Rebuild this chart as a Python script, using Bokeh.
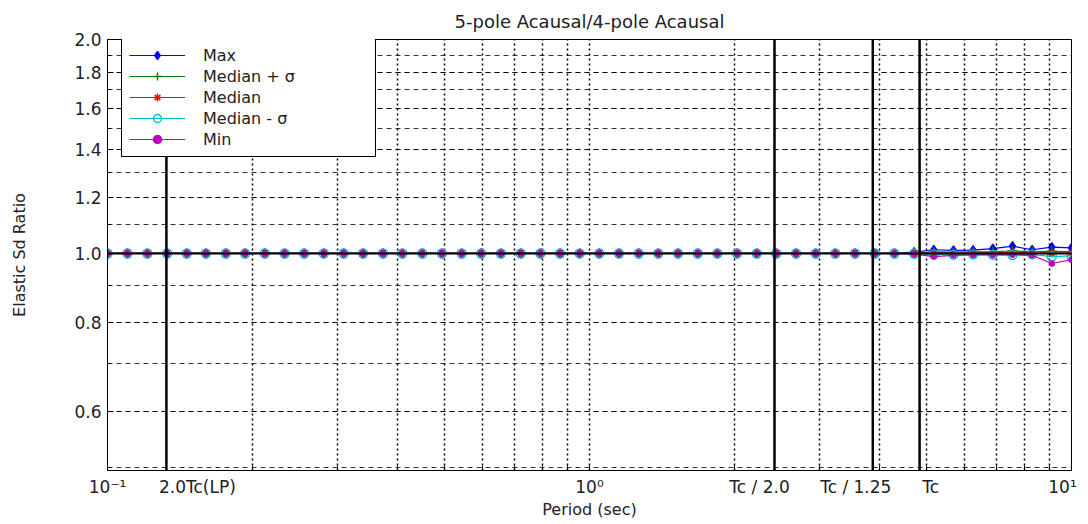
from bokeh.plotting import figure
from bokeh.models import (Range1d, FixedTicker, Span, Legend, LegendItem,
                          PrintfTickFormatter)
from bokeh.embed import file_html
from bokeh.resources import INLINE

# ---------------- data ----------------
periods = [0.100, 0.110, 0.121, 0.133, 0.146, 0.160, 0.176, 0.193, 0.212, 0.233,
           0.256, 0.281, 0.309, 0.339, 0.373, 0.409, 0.450, 0.494, 0.543, 0.596,
           0.655, 0.720, 0.791, 0.869, 0.954, 1.048, 1.151, 1.265, 1.389, 1.526,
           1.677, 1.842, 2.024, 2.223, 2.442, 2.683, 2.947, 3.237, 3.556, 3.907,
           4.292, 4.715, 5.179, 5.690, 6.251, 6.866, 7.543, 8.286, 9.103, 10.00]

max_vals = [1.0] * 41 + [1.004, 1.012, 1.010, 1.011, 1.016, 1.024, 1.012, 1.021, 1.018]
med_plus_vals = [1.0] * 41 + [1.001, 1.005, 1.004, 1.005, 1.006, 1.008, 1.006, 1.007, 1.006]
med_vals = [1.0] * 41 + [1.000, 1.002, 1.001, 1.002, 1.002, 1.003, 1.002, 1.001, 1.002]
med_minus_vals = [1.0] * 41 + [0.999, 0.997, 0.996, 0.997, 0.996, 0.995, 0.997, 0.990, 0.992]
min_vals = [1.0] * 41 + [0.998, 0.990, 0.994, 0.995, 0.995, 0.996, 0.994, 0.968, 0.980]

series_names = ["Max", "Median + σ", "Median", "Median - σ", "Min"]

ref_periods = [0.1325, 2.42, 3.87, 4.84]      # 2.0Tc(LP), Tc/2.0, Tc/1.25, Tc
ref_labels = ["2.0Tc(LP)", "Tc / 2.0", "Tc / 1.25", "Tc"]
unity = 1.0

x_ticks = [0.1, 1, 10]
x_tick_labels = ["10⁻¹", "10⁰", "10¹"]
x_minor = [0.2, 0.3, 0.4, 0.5, 0.6, 0.7, 0.8, 0.9, 2, 3, 4, 5, 6, 7, 8, 9]
y_ticks = [0.6, 0.8, 1.0, 1.2, 1.4, 1.6, 1.8, 2.0]
y_minor = [0.5, 0.6, 0.7, 0.8, 0.9, 1.0, 1.1, 1.2, 1.3, 1.4, 1.5, 1.6, 1.7, 1.8, 1.9, 2.0]

FONT = "DejaVu Sans"
TXT = "#222222"

p = figure(width=1084, height=522, x_axis_type="log", y_axis_type="log",
           x_range=Range1d(0.1, 10), y_range=Range1d(0.495, 2.0),
           output_backend="svg", toolbar_location=None,
           min_border_left=107, min_border_right=13, min_border_top=37, min_border_bottom=52,
           title="5-pole Acausal/4-pole Acausal")

p.title.align = "center"
p.title.text_font = FONT
p.title.text_font_size = "18px"
p.title.text_font_style = "normal"
p.title.text_color = TXT
p.title.standoff = 16

p.outline_line_color = "black"
p.outline_line_alpha = 1.0
p.outline_line_width = 1
p.background_fill_color = "white"

# ---- tickers / grids ----
xt = FixedTicker(ticks=x_ticks, minor_ticks=x_minor)
yt = FixedTicker(ticks=y_ticks, minor_ticks=y_minor)
p.xgrid.ticker = xt
p.ygrid.ticker = yt

# x axis labels: decades plus the reference-period labels, each drawn at the
# centre of its text (a few pixels beside its tick / reference line)
DECADE_PX = 482.0
decade_shift_px = [0, 0, -9]
label_shift_px = [31, -15, -17, 11]
dec_pos = [round(t * 10 ** (dx / DECADE_PX), 5) for t, dx in zip(x_ticks, decade_shift_px)]
label_pos = [round(rp * 10 ** (dx / DECADE_PX), 5) for rp, dx in zip(ref_periods, label_shift_px)]
overrides = {t: l for t, l in zip(dec_pos, x_tick_labels)}
overrides.update({t: l for t, l in zip(label_pos, ref_labels)})
p.xaxis.ticker = FixedTicker(ticks=dec_pos + label_pos, minor_ticks=x_ticks + x_minor)
p.xaxis.major_label_overrides = overrides
p.yaxis.ticker = yt
p.yaxis.formatter = PrintfTickFormatter(format="%.1f")

for ax in (p.xaxis, p.yaxis):
    ax.axis_line_color = "black"
    ax.major_tick_out = 0
    ax.minor_tick_out = 0
    ax.major_tick_line_color = "black"
    ax.minor_tick_line_color = "black"
    ax.major_label_text_font = FONT
    ax.major_label_text_font_size = "17px"
    ax.major_label_text_color = TXT
    ax.axis_label_text_font = FONT
    ax.axis_label_text_font_style = "normal"
    ax.axis_label_text_color = TXT

p.xaxis.major_tick_in = 0
p.xaxis.minor_tick_in = 5
p.yaxis.major_tick_in = 6
p.yaxis.minor_tick_in = 3

p.xaxis.axis_label = "Period (sec)"
p.xaxis.axis_label_text_font_size = "16px"
p.xaxis.major_label_standoff = 6
p.xaxis.axis_label_standoff = 0
p.yaxis.axis_label = "Elastic Sd Ratio"
p.yaxis.axis_label_text_font_size = "16px"
p.yaxis.major_label_standoff = 6
p.yaxis.axis_label_standoff = 42

p.xgrid.grid_line_color = "black"
p.xgrid.grid_line_dash = "2 3"
p.xgrid.grid_line_width = 1.5
p.xgrid.minor_grid_line_color = "black"
p.xgrid.minor_grid_line_dash = "2 3"
p.xgrid.minor_grid_line_width = 1.5
p.ygrid.grid_line_color = "black"
p.ygrid.grid_line_dash = "5 4"
p.ygrid.grid_line_width = 1
p.ygrid.grid_line_alpha = 0.8
p.ygrid.minor_grid_line_color = "black"
p.ygrid.minor_grid_line_dash = "5 4"
p.ygrid.minor_grid_line_alpha = 0.8

# ---- series ----
series_vals = [max_vals, med_plus_vals, med_vals, med_minus_vals, min_vals]
colors = ["#0000ff", "#008000", "#ff0000", "#00bfbf", "#bf00bf"]
markers = ["diamond", "cross", "asterisk", "circle", "circle"]
sizes = [9, 10, 8, 9, 5]
fills = [True, False, False, False, True]

items = []
for name, vals, c, m, s, f in zip(series_names, series_vals, colors, markers, sizes, fills):
    rl = p.line(periods, vals, line_color=c, line_width=1.2)
    rm = p.scatter(periods, vals, marker=m, size=s, line_color=c, line_width=1.4,
                   fill_color=c if f else None)
    items.append(LegendItem(label=name, renderers=[rl, rm]))

# ---- reference lines ----
for rp in ref_periods:
    p.add_layout(Span(location=rp, dimension="height", line_color="black", line_width=2.5))
p.add_layout(Span(location=unity, dimension="width", line_color="black", line_width=2))

legend = Legend(items=items, location=(14, 313), padding=7, spacing=1,
                glyph_width=56, glyph_height=20, label_height=20, label_width=165,
                label_standoff=18, margin=0,
                label_text_font=FONT, label_text_font_size="16px", label_text_color=TXT,
                border_line_color="black", border_line_width=1, border_line_alpha=1,
                background_fill_color="white", background_fill_alpha=1)
p.add_layout(legend)

open("out.html", "w").write(file_html(p, INLINE))
